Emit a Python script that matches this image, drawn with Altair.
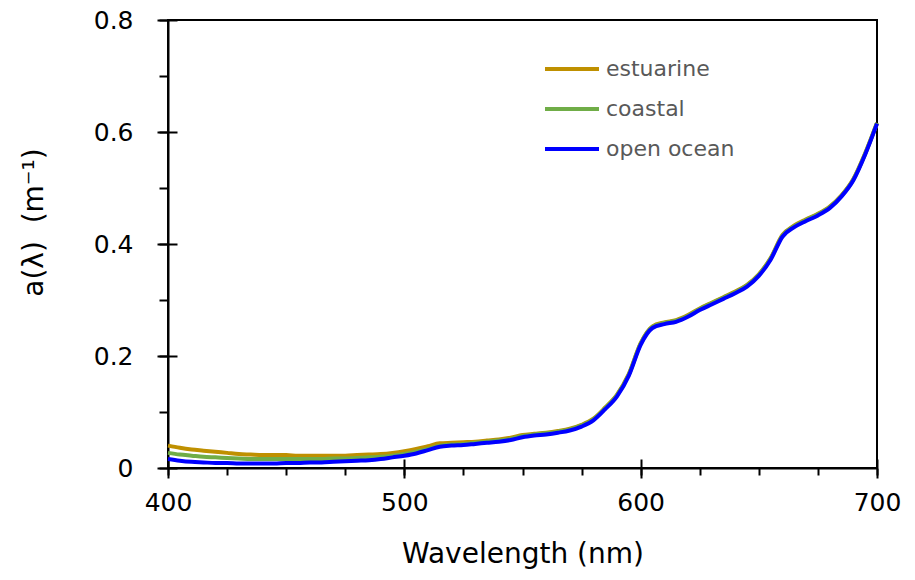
import altair as alt
import pandas as pd

wavelength = [400, 405, 410, 415, 420, 425, 430, 435, 440, 445, 450, 455, 460, 465, 470, 475,
              480, 485, 490, 495, 500, 505, 510, 515, 520, 525, 530, 535, 540, 545, 550, 555,
              560, 565, 570, 575, 580, 585, 590, 595, 600, 605, 610, 615, 620, 625, 630, 635,
              640, 645, 650, 655, 660, 665, 670, 675, 680, 685, 690, 695, 700]

estuarine = [0.040, 0.036, 0.033, 0.031, 0.029, 0.027, 0.025, 0.024, 0.023, 0.023, 0.023, 0.022,
             0.022, 0.022, 0.022, 0.022, 0.023, 0.024, 0.025, 0.027, 0.030, 0.034, 0.039, 0.044,
             0.045, 0.046, 0.047, 0.049, 0.051, 0.054, 0.059, 0.061, 0.063, 0.066, 0.070, 0.077,
             0.088, 0.108, 0.131, 0.168, 0.223, 0.253, 0.260, 0.264, 0.273, 0.285, 0.295, 0.305,
             0.315, 0.327, 0.346, 0.375, 0.416, 0.433, 0.444, 0.454, 0.467, 0.487, 0.516, 0.562,
             0.616]

coastal = [0.027, 0.024, 0.022, 0.020, 0.019, 0.018, 0.017, 0.016, 0.016, 0.016, 0.016, 0.016,
           0.016, 0.016, 0.017, 0.017, 0.018, 0.019, 0.020, 0.022, 0.025, 0.029, 0.034, 0.040,
           0.042, 0.043, 0.045, 0.047, 0.049, 0.052, 0.057, 0.060, 0.062, 0.065, 0.069, 0.076,
           0.087, 0.107, 0.130, 0.167, 0.222, 0.252, 0.259, 0.263, 0.272, 0.284, 0.294, 0.304,
           0.314, 0.326, 0.345, 0.374, 0.415, 0.432, 0.443, 0.453, 0.466, 0.486, 0.515, 0.561,
           0.616]

open_ocean = [0.016, 0.013, 0.011, 0.010, 0.009, 0.009, 0.008, 0.008, 0.008, 0.008, 0.009, 0.009,
              0.010, 0.010, 0.011, 0.012, 0.013, 0.014, 0.016, 0.019, 0.022, 0.026, 0.032, 0.038,
              0.040, 0.041, 0.043, 0.045, 0.047, 0.050, 0.055, 0.058, 0.060, 0.063, 0.067, 0.074,
              0.085, 0.105, 0.128, 0.165, 0.220, 0.250, 0.257, 0.261, 0.270, 0.282, 0.292, 0.302,
              0.312, 0.324, 0.343, 0.372, 0.413, 0.430, 0.441, 0.451, 0.464, 0.485, 0.514, 0.560,
              0.615]

series_names = ["estuarine", "coastal", "open ocean"]
series_colors = ["#BF9000", "#70AD47", "#0000FF"]

x_major = [400, 500, 600, 700]
x_minor = [400, 425, 450, 475, 500, 525, 550, 575, 600, 625, 650, 675, 700]
y_major = [0, 0.2, 0.4, 0.6, 0.8]
y_minor = [0, 0.1, 0.2, 0.3, 0.4, 0.5, 0.6, 0.7, 0.8]

rows = []
for name, vals in zip(series_names, [estuarine, coastal, open_ocean]):
    for w, v in zip(wavelength, vals):
        rows.append({"wl": w, "a": v, "series": name})
df = pd.DataFrame(rows)

FONT = "DejaVu Sans"
xscale = alt.Scale(domain=[400, 700], nice=False, zero=False)
yscale = alt.Scale(domain=[0, 0.8], nice=False)

base = alt.Chart(df)

lines = base.mark_line(strokeWidth=4, interpolate="monotone").encode(
    x=alt.X("wl:Q", scale=xscale,
            axis=alt.Axis(values=x_major, orient="bottom", tickSize=10, tickWidth=2,
                          tickColor="black", domainColor="black", domainWidth=2,
                          labelFontSize=25, labelFont=FONT, labelColor="black",
                          labelPadding=12, labelFlush=False, grid=False,
                          title="Wavelength (nm)", titleFontSize=28, titleFont=FONT,
                          titleFontWeight="normal", titleColor="black", titlePadding=25)),
    y=alt.Y("a:Q", scale=yscale,
            axis=alt.Axis(values=y_major, orient="left", tickSize=11, tickWidth=2,
                          tickColor="black", domainColor="black", domainWidth=2,
                          labelFontSize=25, labelFont=FONT, labelColor="black",
                          labelPadding=24, labelFlush=False, grid=False,
                          labelExpr="datum.value == 0 ? '0' : format(datum.value, '.1f')",
                          title="a(λ)\u00a0\u00a0(m⁻¹)", titleFontSize=28, titleFont=FONT,
                          titleFontWeight="normal", titleColor="black",
                          titleX=-120, titleY=202, titleAngle=-90)),
    color=alt.Color("series:N",
                    scale=alt.Scale(domain=series_names, range=series_colors),
                    sort=series_names,
                    legend=alt.Legend(title=None, orient="none", legendX=375, legendY=20,
                                      symbolType="stroke", symbolStrokeWidth=4,
                                      symbolSize=2916, labelFontSize=22, labelFont=FONT,
                                      labelColor="#595959", labelOffset=5, rowPadding=0)),
)

minor = base.mark_line(opacity=0).encode(
    x=alt.X("wl:Q", scale=xscale,
            axis=alt.Axis(values=x_minor, orient="bottom", tickSize=7, tickWidth=2,
                          tickColor="black", domain=False, labels=False, title=None,
                          grid=False)),
    y=alt.Y("a:Q", scale=yscale,
            axis=alt.Axis(values=y_minor, orient="left", tickSize=9, tickWidth=2,
                          tickColor="black", domain=False, labels=False, title=None,
                          grid=False)),
    detail="series:N",
)

inward = base.mark_line(opacity=0).encode(
    x=alt.X("wl:Q", scale=xscale,
            axis=alt.Axis(values=x_major, orient="bottom", offset=-9, tickSize=9,
                          tickWidth=2, tickColor="black", domain=False, labels=False,
                          title=None, grid=False)),
    y=alt.Y("a:Q", scale=yscale,
            axis=alt.Axis(values=y_major, orient="left", offset=-9, tickSize=9,
                          tickWidth=2, tickColor="black", domain=False, labels=False,
                          title=None, grid=False)),
    detail="series:N",
)

chart = alt.layer(lines, minor, inward).resolve_axis(
    x="independent", y="independent"
).properties(
    width=709, height=448,
    autosize=alt.AutoSizeParams(type="none"),
    padding={"left": 160, "top": 12, "right": 30, "bottom": 104},
).configure_view(stroke="black", strokeWidth=2)

chart.save("out.html", embed_options={"renderer": "svg", "actions": False})
